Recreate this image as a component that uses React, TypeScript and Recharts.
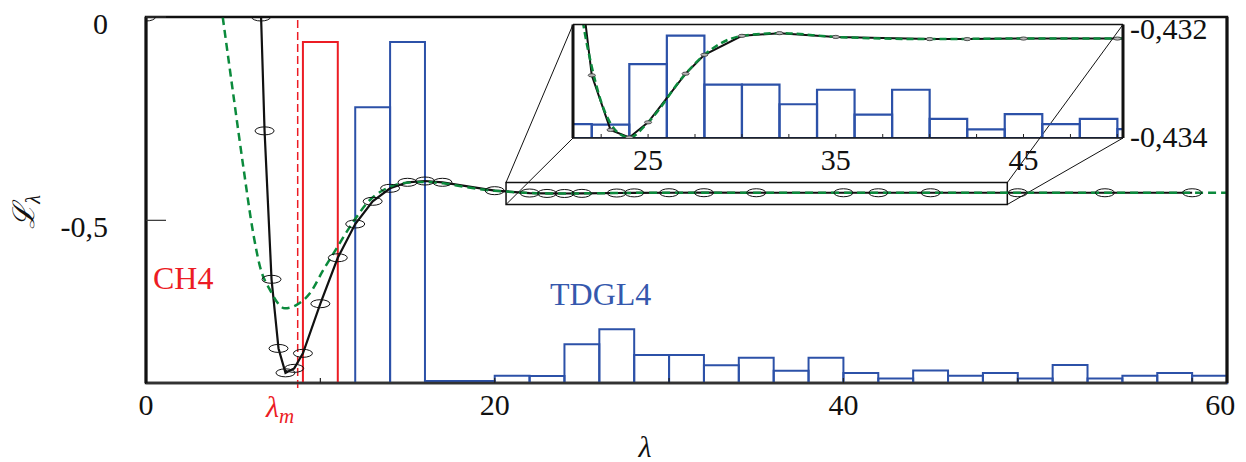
import React from 'react'
import { ComposedChart, Line, XAxis, YAxis, ReferenceArea, ReferenceLine } from 'recharts'

// simulated points (black line, open ellipse markers)
const simX = [0, 6.6, 6.8, 7.2, 7.6, 8.0, 8.5, 9, 10, 11, 12, 13, 14, 15, 16, 17, 20, 22, 23, 24, 25, 27, 28, 30, 32, 35, 40, 42, 45, 50, 55, 60]
const simL = [0, 0, -0.28, -0.645, -0.815, -0.875, -0.864, -0.827, -0.705, -0.592, -0.509, -0.4532, -0.4212, -0.4065, -0.4033, -0.4065, -0.4271, -0.43286, -0.43387, -0.43401, -0.43373, -0.43283, -0.43248, -0.43213, -0.43208, -0.43215, -0.43219, -0.43219, -0.43218, -0.43218, -0.43219, -0.43219]

// fitted curve (green dashed)
const fitX = [4.4, 5.05, 5.58, 6.15, 6.54, 7.11, 7.97, 8.64, 9.4, 10.17, 10.93, 11.89, 12.84, 13.8, 14.95, 15.9, 17.05, 18.2, 20, 21, 21.5, 22, 22.5, 23, 23.5, 24, 25, 27, 28, 30, 32, 35, 40, 45, 50, 55, 60, 62]
const fitL = [0, -0.204, -0.368, -0.532, -0.614, -0.671, -0.7164, -0.708, -0.6795, -0.6221, -0.5688, -0.5033, -0.45, -0.4213, -0.4074, -0.4057, -0.409, -0.4172, -0.4275, -0.4303, -0.4318, -0.4327, -0.43335, -0.43375, -0.43395, -0.43401, -0.43373, -0.43283, -0.43248, -0.43213, -0.43208, -0.43215, -0.43219, -0.43218, -0.43218, -0.43219, -0.43219, -0.43219]

// TDGL4 histogram (bins of width 2, relative heights)
const tdglStart = [12, 14, 16, 18, 20, 22, 24, 26, 28, 30, 32, 34, 36, 38, 40, 42, 44, 46, 48, 50, 52, 54, 56, 58, 60]
const tdglFreq = [0.809, 1.0, 0.0059, 0.0059, 0.0214, 0.0205, 0.1135, 0.1575, 0.0821, 0.0821, 0.0519, 0.0742, 0.0361, 0.0742, 0.0293, 0.0132, 0.0367, 0.0214, 0.0293, 0.0135, 0.0528, 0.0135, 0.0214, 0.0293, 0.0214]
// CH4 histogram
const ch4Start = [9]
const ch4Freq = [1.0]
const binWidth = 2

const lambdaM = 8.7

const xTicks = [0, 10, 20, 30, 40, 50, 60]
const xLabelTicks = [0, 20, 40, 60]
const topTicks = [10, 20]
const yTicks = [-0.5, 0]

const insetXTicks = [22.5, 25, 27.5, 30, 32.5, 35, 37.5, 40, 42.5, 45, 47.5, 50]
const insetXLabels = [25, 35, 45]
const insetYTicks = [-0.434, -0.432]

// zoomed region shown in the inset
const zoomBox = { x1: 20.65, x2: 49.4, y1: -0.461, y2: -0.407 }

const simData = simX.map((x, i) => ({ x, L: simL[i] }))
const fitData = fitX.map((x, i) => ({ x, L: fitL[i] }))

const FONT = '"Liberation Serif", "DejaVu Serif", serif'
const BLUE = '#2c51a8'
const RED = '#ec1c24'
const GREEN = '#0b8a3c'

// layout of main plot
const W = 1246
const H = 462
const plot = { left: 146, right: 1227, top: 17, bottom: 383 }
const xDom = [0, 62]
const yDom = [-0.9, 0]
const histTop = (plot.bottom - plot.top) / 341
// inset layout (px)
const inset = { left: 573, right: 1123, top: 24.5, bottom: 138 }

const toX = (px: number) => xDom[0] + ((px - plot.left) / (plot.right - plot.left)) * (xDom[1] - xDom[0])
const toY = (py: number) => yDom[1] - ((py - plot.top) / (plot.bottom - plot.top)) * (yDom[1] - yDom[0])

const comma = (v: number) => String(v).replace('.', ',')

const RingDot = (props: any) => {
  const { cx, cy, index } = props
  if (cx == null || cy == null) return <g key={`r${index}`} />
  return <ellipse key={`r${index}`} cx={cx} cy={cy} rx={9.5} ry={4} fill="none" stroke="#111" strokeWidth={1} />
}

const SmallDot = (props: any) => {
  const { cx, cy, index } = props
  if (cx == null || cy == null) return <g key={`s${index}`} />
  return <ellipse key={`s${index}`} cx={cx} cy={cy} rx={3.6} ry={1.6} fill="#b5b5b5" stroke="#333" strokeWidth={0.8} />
}

const BottomTick = (props: any) => {
  const { x, y, payload } = props
  const v = payload.value
  if (!xLabelTicks.includes(v)) return <g />
  const dx = v === 60 ? 28 : 0
  return (
    <text x={x + dx} y={y} dy={21} textAnchor="middle" fontSize={30} fontFamily={FONT} fill="#111">
      {v}
    </text>
  )
}

const LeftTick = (props: any) => {
  const { x, y, payload } = props
  return (
    <text x={x} y={y + 17} textAnchor="end" fontSize={30} fontFamily={FONT} fill="#111">
      {comma(payload.value)}
    </text>
  )
}

const InsetBottomTick = (props: any) => {
  const { x, y, payload } = props
  const v = payload.value
  if (!insetXLabels.includes(v)) return <g />
  return (
    <text x={x} y={y} dy={21} textAnchor="middle" fontSize={30} fontFamily={FONT} fill="#111">
      {v}
    </text>
  )
}

const InsetRightTick = (props: any) => {
  const { x, y, payload } = props
  return (
    <text x={x} y={y + 10} textAnchor="start" fontSize={30} fontFamily={FONT} fill="#111">
      {comma(payload.value)}
    </text>
  )
}

function MainChart() {
  const tl = { x: toX(inset.left), y: toY(inset.top) }
  const bl = { x: toX(inset.left), y: toY(inset.bottom) }
  const tr = { x: toX(inset.right), y: toY(inset.top) }
  const br = { x: toX(inset.right), y: toY(inset.bottom) }
  return (
    <ComposedChart
      width={W}
      height={H}
      margin={{ top: plot.top - 1, right: W - plot.right - 1, bottom: H - plot.bottom - 40, left: plot.left - 60 }}
    >
      <XAxis
        type="number"
        dataKey="x"
        domain={xDom}
        allowDataOverflow
        ticks={xTicks}
        height={40}
        tickSize={-5}
        tickMargin={16}
        tick={BottomTick}
        axisLine={{ stroke: '#333', strokeWidth: 2.5 }}
        tickLine={{ stroke: '#222', strokeWidth: 1.2 }}
      />
      <XAxis
        xAxisId="top"
        orientation="top"
        type="number"
        domain={xDom}
        ticks={topTicks}
        height={1}
        tickSize={-5}
        tickFormatter={() => ''}
        axisLine={{ stroke: '#111', strokeWidth: 1.5 }}
        tickLine={{ stroke: '#222', strokeWidth: 1.2 }}
      />
      <YAxis
        yAxisId="L"
        type="number"
        domain={yDom}
        allowDataOverflow
        ticks={yTicks}
        width={60}
        tickSize={-20}
        tickMargin={58}
        tick={LeftTick}
        axisLine={{ stroke: '#111', strokeWidth: 3 }}
        tickLine={{ stroke: '#333', strokeWidth: 1.2 }}
      />
      <YAxis
        yAxisId="R"
        orientation="right"
        type="number"
        domain={yDom}
        width={1}
        tick={false}
        tickLine={false}
        axisLine={{ stroke: '#111', strokeWidth: 3 }}
      />
      <YAxis yAxisId="H" hide width={0} type="number" domain={[0, histTop]} allowDataOverflow />

      {/* plot frame */}
      <ReferenceArea
        yAxisId="L"
        x1={xDom[0]}
        x2={xDom[1]}
        y1={yDom[0]}
        y2={yDom[1]}
        fill="none"
        stroke="#111"
        strokeWidth={2.5}
        ifOverflow="visible"
      />

      {tdglStart.map((s, i) => (
        <ReferenceArea
          key={`t${i}`}
          yAxisId="H"
          x1={s}
          x2={s + binWidth}
          y1={0}
          y2={tdglFreq[i]}
          fill="none"
          stroke={BLUE}
          strokeWidth={2}
          ifOverflow="visible"
        />
      ))}
      {ch4Start.map((s, i) => (
        <ReferenceArea
          key={`c${i}`}
          yAxisId="H"
          x1={s}
          x2={s + binWidth}
          y1={0}
          y2={ch4Freq[i]}
          fill="none"
          stroke={RED}
          strokeWidth={2}
          ifOverflow="visible"
        />
      ))}

      <ReferenceLine
        yAxisId="L"
        segment={[{ x: lambdaM, y: yDom[0] - 0.012 }, { x: lambdaM, y: 0 }]}
        stroke={RED}
        strokeWidth={1.5}
        strokeDasharray="8 4"
        ifOverflow="visible"
      />

      {/* zoom box and connectors to the inset */}
      <ReferenceArea
        yAxisId="L"
        x1={zoomBox.x1}
        x2={zoomBox.x2}
        y1={zoomBox.y1}
        y2={zoomBox.y2}
        fill="none"
        stroke="#111"
        strokeWidth={1.5}
        ifOverflow="visible"
      />
      <ReferenceLine yAxisId="L" segment={[{ x: zoomBox.x1, y: zoomBox.y2 }, tl]} stroke="#111" strokeWidth={1} ifOverflow="visible" />
      <ReferenceLine yAxisId="L" segment={[{ x: zoomBox.x1, y: zoomBox.y1 }, bl]} stroke="#111" strokeWidth={1} ifOverflow="visible" />
      <ReferenceLine yAxisId="L" segment={[{ x: zoomBox.x2, y: zoomBox.y2 }, tr]} stroke="#111" strokeWidth={1} ifOverflow="visible" />
      <ReferenceLine yAxisId="L" segment={[{ x: zoomBox.x2, y: zoomBox.y1 }, br]} stroke="#111" strokeWidth={1} ifOverflow="visible" />

      <Line
        yAxisId="L"
        data={simData}
        dataKey="L"
        type="linear"
        stroke="#111"
        strokeWidth={2.2}
        dot={RingDot}
        activeDot={false}
        isAnimationActive={false}
      />
      <Line
        yAxisId="L"
        data={fitData}
        dataKey="L"
        type="monotone"
        stroke={GREEN}
        strokeWidth={2.5}
        strokeDasharray="8 5"
        dot={false}
        activeDot={false}
        isAnimationActive={false}
      />
    </ComposedChart>
  )
}

function InsetChart() {
  const box = { left: 560, top: 10, width: 680, height: 180 }
  const iy = [-0.43402, -0.43192]
  const ix = [21, 50.3]
  return (
    <div style={{ position: 'absolute', left: box.left, top: box.top }}>
      <ComposedChart
        width={box.width}
        height={box.height}
        margin={{
          top: inset.top - box.top - 1,
          right: box.left + box.width - inset.right - 100,
          bottom: box.top + box.height - inset.bottom - 30,
          left: inset.left - box.left - 1,
        }}
      >
        <XAxis
          type="number"
          dataKey="x"
          domain={ix}
          allowDataOverflow
          ticks={insetXTicks}
          height={30}
          tickSize={-4}
          tickMargin={15}
          tick={InsetBottomTick}
          axisLine={{ stroke: '#111', strokeWidth: 1.5 }}
          tickLine={{ stroke: '#222', strokeWidth: 1 }}
        />
        <XAxis
          xAxisId="top"
          orientation="top"
          type="number"
          domain={ix}
          ticks={insetXTicks}
          height={1}
          tickSize={-4}
          tickFormatter={() => ''}
          axisLine={{ stroke: '#111', strokeWidth: 1.5 }}
          tickLine={{ stroke: '#222', strokeWidth: 1 }}
        />
        <YAxis
          yAxisId="IL"
          type="number"
          domain={iy}
          allowDataOverflow
          width={1}
          tick={false}
          tickLine={false}
          axisLine={{ stroke: '#111', strokeWidth: 3 }}
        />
        <YAxis
          yAxisId="IR"
          orientation="right"
          type="number"
          domain={iy}
          allowDataOverflow
          ticks={insetYTicks}
          width={100}
          tickSize={0}
          tickMargin={7}
          tickLine={false}
          tick={InsetRightTick}
          axisLine={{ stroke: '#111', strokeWidth: 3 }}
        />
        <YAxis yAxisId="IH" hide width={0} type="number" domain={[0, 0.1746]} allowDataOverflow />

        {tdglStart.map((s, i) => (
          <ReferenceArea
            key={`it${i}`}
            yAxisId="IH"
            x1={s}
            x2={s + binWidth}
            y1={0}
            y2={tdglFreq[i]}
            fill="none"
            stroke={BLUE}
            strokeWidth={2.2}
            ifOverflow="hidden"
          />
        ))}

        <Line
          yAxisId="IL"
          data={simData}
          dataKey="L"
          type="linear"
          stroke="#111"
          strokeWidth={2}
          dot={SmallDot}
          activeDot={false}
          isAnimationActive={false}
        />
        <Line
          yAxisId="IL"
          data={fitData}
          dataKey="L"
          type="monotone"
          stroke={GREEN}
          strokeWidth={2.5}
          strokeDasharray="7 4"
          dot={false}
          activeDot={false}
          isAnimationActive={false}
        />
      </ComposedChart>
    </div>
  )
}

function Annotations() {
  return (
    <svg width={W} height={H} style={{ position: 'absolute', left: 0, top: 0, pointerEvents: 'none' }}>
      <text x={153} y={289} fontSize={32} fontFamily={FONT} fill={RED}>
        CH4
      </text>
      <text x={550} y={305} fontSize={32} fontFamily={FONT} fill="#3558ad">
        TDGL4
      </text>
      <text x={266} y={417} fontSize={30} fontFamily={FONT} fontStyle="italic" fill={RED}>
        λ<tspan fontSize={21} dy={6}>m</tspan>
      </text>
      <text x={645} y={457} textAnchor="middle" fontSize={30} fontFamily={FONT} fontStyle="italic" fill="#111">
        λ
      </text>
      <text transform="translate(34,212) rotate(-90)" textAnchor="middle" fontSize={30} fontFamily={FONT} fontStyle="italic" fill="#111">
        ℒ<tspan fontSize={20} dy={6}>λ</tspan>
      </text>
    </svg>
  )
}

export default function App() {
  return (
    <div style={{ position: 'absolute', left: 0, top: 0, width: W, height: H, background: '#fff' }}>
      <MainChart />
      <InsetChart />
      <Annotations />
    </div>
  )
}
